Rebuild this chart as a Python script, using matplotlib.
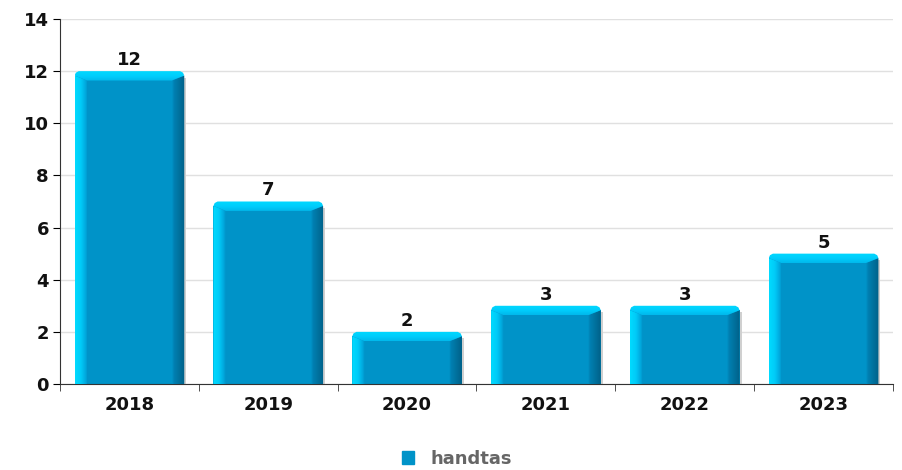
import numpy as np
import matplotlib.pyplot as plt
from matplotlib.colors import LinearSegmentedColormap
from matplotlib.patches import Polygon, Rectangle

years = ["2018", "2019", "2020", "2021", "2022", "2023"]
counts = [12, 7, 2, 3, 3, 5]
series_name = "handtas"

main = "#0093c8"

fig = plt.figure(figsize=(9.03, 4.70), dpi=100)
ax = fig.add_axes([60 / 903, 1 - 384 / 470, 833 / 903, 365 / 470])

x = np.arange(len(years))
w = 0.79
bars = ax.bar(x, counts, width=w, color=main, zorder=2)

left_cmap = LinearSegmentedColormap.from_list(
    "l", [(0, "#00dcff"), (0.45, "#00cbf8"), (0.8, "#00abe0"), (1, main)])
right_cmap = LinearSegmentedColormap.from_list(
    "r", [(0, main), (0.15, "#0080b2"), (0.6, "#00709c"), (1, "#006088")])
top_cmap = LinearSegmentedColormap.from_list("t", ["#00b8ec", "#00cefc", "#00d8ff"])
grad = np.linspace(0, 1, 64).reshape(1, -1)
vgrad = np.linspace(0, 1, 64).reshape(-1, 1)

bx = 0.09    # bevel width, data units
by = 0.36    # bevel height, data units
cx = 0.03    # corner cut
cy = 0.17

for b in bars:
    x0 = b.get_x()
    x1 = x0 + b.get_width()
    h = b.get_height()
    # soft shadow on the right
    ax.add_patch(Rectangle((x1, 0), 0.014, h - 0.25, facecolor="#d0d0d0",
                           edgecolor="none", zorder=1.9))
    b.set_height(h - cy)
    # left highlight
    im = ax.imshow(grad, cmap=left_cmap, extent=[x0, x0 + bx, 0, h],
                   aspect="auto", zorder=3, interpolation="bilinear")
    im.set_clip_path(Polygon([[x0, 0], [x0 + bx, 0], [x0 + bx, h - by], [x0, h - cy]],
                             closed=True, transform=ax.transData))
    # right shade
    im2 = ax.imshow(grad, cmap=right_cmap, extent=[x1 - bx, x1, 0, h],
                    aspect="auto", zorder=3, interpolation="bilinear")
    im2.set_clip_path(Polygon([[x1 - bx, 0], [x1, 0], [x1, h - cy], [x1 - bx, h - by]],
                              closed=True, transform=ax.transData))
    # top cap
    im3 = ax.imshow(vgrad, cmap=top_cmap, extent=[x0, x1, h - by, h], origin="lower",
                    aspect="auto", zorder=4, interpolation="bilinear")
    im3.set_clip_path(Polygon([[x0, h - cy], [x0 + cx * 0.3, h - cy * 0.35],
                               [x0 + cx, h], [x1 - cx, h], [x1 - cx * 0.3, h - cy * 0.35],
                               [x1, h - cy], [x1 - bx, h - by], [x0 + bx, h - by]],
                              closed=True, transform=ax.transData))
    ax.text(x0 + (x1 - x0) / 2, h + 0.08, str(int(h)), ha="center", va="bottom",
            fontsize=13, fontweight="bold", color="#111111", zorder=5)

ax.set_xlim(-0.5, len(years) - 0.5)
ax.set_ylim(0, 14)
ax.set_yticks(range(0, 15, 2))
ax.set_xticks(x)
ax.set_xticklabels(years)
ax.set_xticks(np.arange(-0.5, len(years), 1), minor=True)
ax.tick_params(axis="x", which="major", length=0, pad=9, labelsize=13)
ax.tick_params(axis="x", which="minor", length=5, color="#333333")
ax.tick_params(axis="y", length=5, labelsize=13, pad=3)
for lab in ax.get_xticklabels() + ax.get_yticklabels():
    lab.set_fontweight("bold")
    lab.set_color("#111111")

ax.grid(axis="y", color="#e0e0e0", linewidth=1, zorder=0)
ax.set_axisbelow(True)
for s in ["top", "right"]:
    ax.spines[s].set_visible(False)
ax.spines["left"].set_color("#333333")
ax.spines["bottom"].set_color("#333333")

fig.legend([plt.Rectangle((0, 0), 1, 1, color=main)], [series_name], loc="center",
           bbox_to_anchor=(457 / 903, 1 - 459 / 470), frameon=False, handlelength=0.7,
           handleheight=0.7, handletextpad=0.9,
           prop={"weight": "bold", "size": 13})
for t in fig.legends[0].get_texts():
    t.set_color("#666666")

fig.savefig("out.png", dpi=100)
